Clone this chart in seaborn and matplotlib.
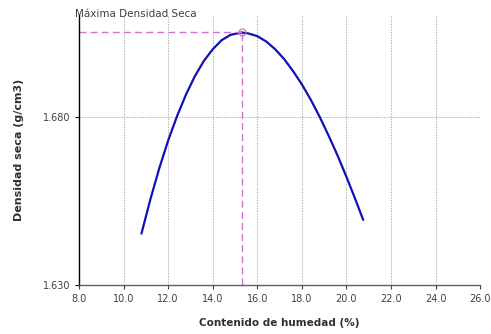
import numpy as np
import pandas as pd
import matplotlib
matplotlib.use("Agg")
import matplotlib.pyplot as plt
import seaborn as sns

# humedad (%) y densidad seca (g/cm3)
humedad = [10.80, 11.20, 11.60, 12.00, 12.40, 12.80, 13.20, 13.60, 14.00, 14.40, 14.80,
           15.30, 15.60, 16.00, 16.40, 16.80, 17.20, 17.60, 18.00, 18.40, 18.80,
           19.20, 19.60, 20.00, 20.40, 20.75]
densidad = [1.6453, 1.6555, 1.6648, 1.6731, 1.6804, 1.6868, 1.6923, 1.6968, 1.7003, 1.7030, 1.7046,
            1.7053, 1.7050, 1.7042, 1.7026, 1.7003, 1.6974, 1.6938, 1.6898, 1.6852, 1.6801,
            1.6745, 1.6686, 1.6622, 1.6555, 1.6494]
hum_opt = 15.30
dens_max = 1.7053

x_ticks = [8.0, 10.0, 12.0, 14.0, 16.0, 18.0, 20.0, 22.0, 24.0, 26.0]
y_ticks = [1.630, 1.680]

df = pd.DataFrame({"humedad": humedad, "densidad": densidad})

sns.set_style("white")
plt.rcParams['font.family'] = ['DejaVu Sans']

fig = plt.figure(figsize=(4.91, 3.34), dpi=100)
ax = fig.add_axes([0.161, 0.147, 0.817, 0.808])

sns.lineplot(data=df, x="humedad", y="densidad", color="#1010b8", linewidth=1.6, ax=ax)

ax.set_xlim(8.0, 26.0)
ax.set_ylim(1.630, 1.7105)

# lineas al punto maximo
ax.plot([8.0, hum_opt], [dens_max, dens_max], color="#d070d0", lw=1, dashes=(5, 3))
ax.plot([hum_opt, hum_opt], [1.630, dens_max], color="#d070d0", lw=1, dashes=(5, 3))
ax.plot([hum_opt], [dens_max], marker="o", ms=5, mfc="none", mec="#d070d0", mew=0.9)

ax.set_xticks(x_ticks)
ax.set_xticklabels([f"{t:.1f}" for t in x_ticks])
ax.set_yticks(y_ticks)
ax.set_yticklabels([f"{t:.3f}" for t in y_ticks])
ax.tick_params(axis="both", labelsize=7, colors="#404040", length=3, width=0.8,
               direction="out", left=True, bottom=True)
ax.tick_params(axis="y", color="black")

ax.grid(True, color="#b4b4b4", linestyle=(0, (1.5, 1.2)), linewidth=0.7)
ax.set_axisbelow(True)

for s in ["top", "right"]:
    ax.spines[s].set_visible(False)
ax.spines["left"].set_color("black")
ax.spines["left"].set_linewidth(1.0)
ax.spines["bottom"].set_color("#606060")
ax.spines["bottom"].set_linewidth(1.0)

ax.set_xlabel("Contenido de humedad (%)", fontsize=7.5, fontweight="bold", color="#303030", labelpad=10)
ax.set_ylabel("Densidad seca (g/cm3)", fontsize=8, fontweight="bold", color="#303030", labelpad=13)

fig.text(0.153, 0.957, "Máxima Densidad Seca", fontsize=7.5, color="#404040", ha="left", va="center")

fig.savefig("out.png", dpi=100)
